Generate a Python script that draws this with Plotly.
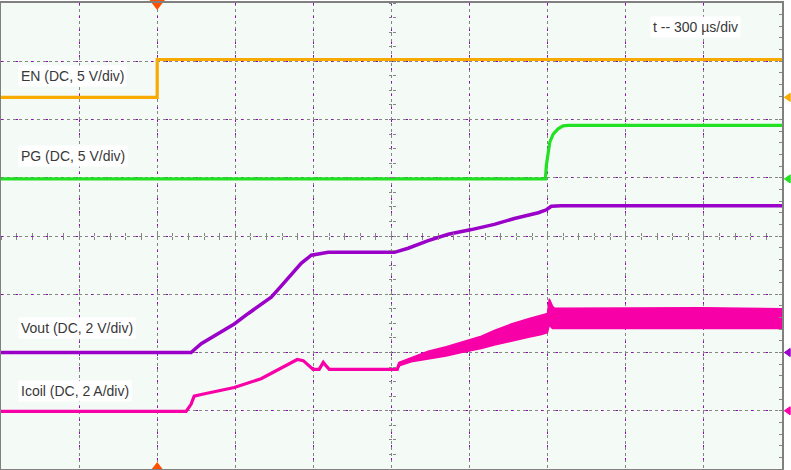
import plotly.graph_objects as go

# ---- data (time in µs from left edge of screen, amplitude in screen divisions) ----
en_t = [0, 600, 600, 3000]
en_y = [6.38, 6.38, 7.03, 7.03]

pg_t = [0, 2091, 2095, 2101, 2108, 2121, 2140, 2159, 2178, 3000]
pg_y = [4.98, 4.98, 5.22, 5.44, 5.61, 5.75, 5.84, 5.89, 5.90, 5.90]

vout_t = [0, 730, 769, 830, 896, 950, 999, 1038, 1076, 1115, 1153, 1192, 1257, 1511, 1564, 1641,
          1718, 1807, 1895, 1972, 2037, 2064, 2095, 2114, 2152, 3000]
vout_y = [2.00, 2.00, 2.15, 2.32, 2.49, 2.67, 2.83, 2.95, 3.14, 3.34, 3.53, 3.67, 3.72, 3.72,
          3.79, 3.92, 4.03, 4.11, 4.20, 4.30, 4.37, 4.40, 4.45, 4.51, 4.52, 4.52]

icoil_t = [0, 711, 730, 742, 769, 896, 999, 1076, 1115, 1138, 1161, 1184, 1199, 1222, 1238,
           1249, 1261, 1522, 1530, 1576, 1641, 1710, 1768, 1845, 1895, 1960, 2026, 2076,
           2099, 2106, 2118, 2126, 2152, 2306, 2691, 3000]
icoil_y = [0.99, 0.99, 1.11, 1.25, 1.28, 1.40, 1.55, 1.74, 1.83, 1.88, 1.86, 1.76, 1.71, 1.71,
           1.83, 1.77, 1.71, 1.71, 1.81, 1.88, 1.96, 2.01, 2.08, 2.17, 2.25, 2.34, 2.42, 2.47,
           2.51, 2.71, 2.61, 2.58, 2.58, 2.58, 2.58, 2.58]

# ripple envelope of the coil current
band_t = [1522, 1530, 1576, 1641, 1710, 1768, 1845, 1895, 1960, 2026, 2076, 2099, 2106,
          2118, 2126, 2152, 2306, 2500, 2691, 3000]
band_hi = [1.72, 1.83, 1.91, 2.02, 2.10, 2.18, 2.28, 2.38, 2.49, 2.58, 2.64, 2.67, 2.92,
           2.80, 2.76, 2.76, 2.77, 2.76, 2.77, 2.75]
band_lo = [1.69, 1.77, 1.84, 1.89, 1.94, 2.00, 2.07, 2.13, 2.20, 2.26, 2.31, 2.34, 2.47,
           2.41, 2.41, 2.41, 2.41, 2.42, 2.41, 2.41]

# channel reference levels (right-hand markers)
ref_levels = [6.38, 4.98, 2.00, 1.00]
trigger_t = 600

labels = ["EN (DC, 5 V/div)", "PG (DC, 5 V/div)", "Vout (DC, 2 V/div)", "Icoil (DC, 2 A/div)"]
label_y = [6.75, 5.38, 2.42, 1.34]
label_x = 66
timebase_label = "t -- 300 µs/div"

C_EN = "#F8AA00"
C_PG = "#22E022"
C_VO = "#9A00C8"
C_IC = "#F800A8"
C_GRID = "#858585"
FONT = "Arial, Liberation Sans, sans-serif"

fig = go.Figure()

fig.add_trace(go.Scatter(x=en_t, y=en_y, mode="lines", line=dict(color=C_EN, width=3.2),
                         showlegend=False, hoverinfo="skip"))
fig.add_trace(go.Scatter(x=pg_t, y=pg_y, mode="lines", line=dict(color=C_PG, width=3.2),
                         showlegend=False, hoverinfo="skip"))
fig.add_trace(go.Scatter(x=vout_t, y=vout_y, mode="lines", line=dict(color=C_VO, width=3.5),
                         showlegend=False, hoverinfo="skip"))
fig.add_trace(go.Scatter(x=icoil_t, y=icoil_y, mode="lines", line=dict(color=C_IC, width=3.2),
                         showlegend=False, hoverinfo="skip"))
fig.add_trace(go.Scatter(x=band_t, y=band_hi, mode="lines", line=dict(color=C_IC, width=1.5),
                         showlegend=False, hoverinfo="skip"))
fig.add_trace(go.Scatter(x=band_t, y=band_lo, mode="lines", line=dict(color=C_IC, width=1.5),
                         fill="tonexty", fillcolor=C_IC, showlegend=False, hoverinfo="skip"))

# trigger markers
fig.add_trace(go.Scatter(x=[trigger_t, trigger_t], y=[8, 0], mode="markers", cliponaxis=False,
                         marker=dict(symbol=["triangle-down", "triangle-up"], size=14,
                                     color="#FF5000"),
                         showlegend=False, hoverinfo="skip"))

# helper invisible traces so the auxiliary axes are drawn
for xa, ya in [("x2", "y"), ("x3", "y"), ("x4", "y"), ("x", "y2"), ("x", "y3"), ("x", "y4"), ("x", "y5")]:
    fig.add_trace(go.Scatter(x=[0], y=[0], xaxis=xa, yaxis=ya, mode="markers",
                             marker=dict(opacity=0), showlegend=False, hoverinfo="skip"))

for txt, yy in zip(labels, label_y):
    fig.add_annotation(x=label_x, y=yy, text=txt, showarrow=False, xanchor="left",
                       yanchor="middle", bgcolor="white", borderpad=2,
                       font=dict(family=FONT, size=14, color="#383838"))
fig.add_annotation(x=2492, y=7.58, text=timebase_label, showarrow=False, xanchor="left",
                   yanchor="middle", bgcolor="white", borderpad=2,
                   font=dict(family=FONT, size=14, color="#383838"))

# channel level indicators (small left-pointing arrows just outside the right edge)
for lvl, col in zip(ref_levels, [C_EN, C_PG, C_VO, C_IC]):
    fig.add_shape(type="path", xref="paper", yref="y",
                  path=f"M 1.003,{lvl} L 1.0105,{lvl + 0.07} L 1.0105,{lvl - 0.07} Z",
                  fillcolor=col, line=dict(color=col, width=1), layer="above")

common_off = dict(showticklabels=False, zeroline=False, fixedrange=True)
fig.update_layout(
    width=791, height=470, autosize=False,
    margin=dict(l=1, r=9, t=1, b=1),
    paper_bgcolor="white", plot_bgcolor="#F4FAF6",
    xaxis=dict(range=[0, 3000], dtick=300, showgrid=True, gridcolor=C_GRID, griddash="dot",
               gridwidth=1, showline=True, mirror=True, linecolor="#808080", linewidth=2,
               ticks="", **common_off),
    yaxis=dict(range=[0, 8], dtick=1, showgrid=True, gridcolor=C_GRID, griddash="dot",
               gridwidth=1, showline=True, mirror=True, linecolor="#808080", linewidth=2,
               ticks="", **common_off),
    xaxis2=dict(overlaying="x", range=[0, 3000], anchor="free", position=0.5, showgrid=False,
                showline=False, ticks="outside", dtick=60, ticklen=3, tickcolor=C_GRID,
                tickwidth=1, **common_off),
    xaxis3=dict(overlaying="x", range=[0, 3000], anchor="free", position=0.5, showgrid=False,
                showline=False, ticks="inside", dtick=60, ticklen=3, tickcolor=C_GRID,
                tickwidth=1, **common_off),
    xaxis4=dict(overlaying="x", range=[0, 3000], dtick=300, showgrid=True, gridcolor=C_VO,
                griddash="2px,11px", gridwidth=1, showline=False, ticks="", **common_off),
    yaxis2=dict(overlaying="y", side="right", range=[0, 8], showgrid=False, showline=False,
                ticks="inside", dtick=0.2, ticklen=3, tickcolor=C_GRID, tickwidth=1, **common_off),
    yaxis3=dict(overlaying="y", range=[0, 8], anchor="free", position=0.5, showgrid=False,
                showline=False, ticks="outside", dtick=0.25, ticklen=3, tickcolor=C_GRID,
                tickwidth=1, **common_off),
    yaxis4=dict(overlaying="y", range=[0, 8], anchor="free", position=0.5, side="right",
                showgrid=False, showline=False, ticks="outside", dtick=0.25, ticklen=3,
                tickcolor=C_GRID, tickwidth=1, **common_off),
    yaxis5=dict(overlaying="y", range=[0, 8], dtick=1, showgrid=True, gridcolor=C_VO,
                griddash="2px,13px", gridwidth=1, showline=False, ticks="", **common_off),
)

fig.write_html("out.html", config={"displayModeBar": False},
               post_script="document.body.style.margin='0';")
